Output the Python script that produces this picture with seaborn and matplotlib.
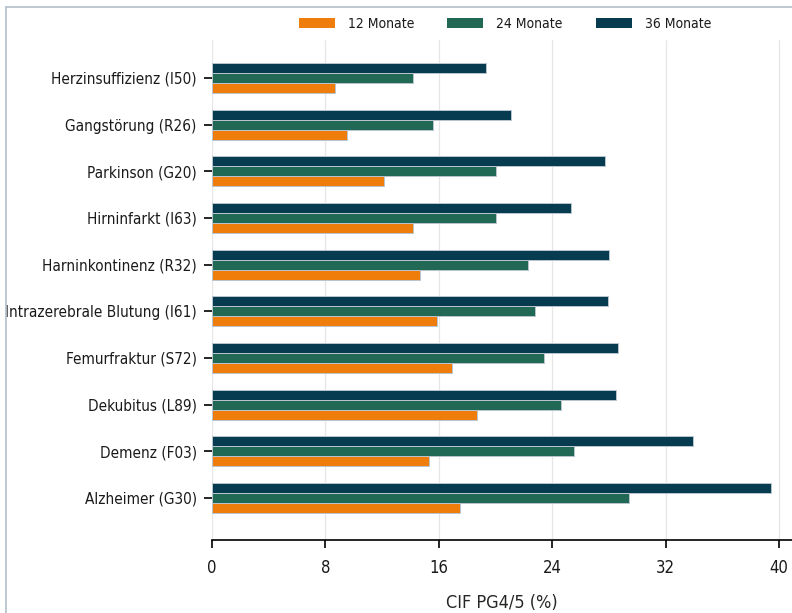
import matplotlib
matplotlib.use("Agg")
import matplotlib.pyplot as plt
import seaborn as sns
import pandas as pd
from matplotlib.patches import Patch
from matplotlib.lines import Line2D

diagnoses = [
    "Herzinsuffizienz (I50)",
    "Gangstörung (R26)",
    "Parkinson (G20)",
    "Hirninfarkt (I63)",
    "Harninkontinenz (R32)",
    "Intrazerebrale Blutung (I61)",
    "Femurfraktur (S72)",
    "Dekubitus (L89)",
    "Demenz (F03)",
    "Alzheimer (G30)",
]
cif_12 = [8.7, 9.5, 12.1, 14.2, 14.7, 15.9, 16.9, 18.7, 15.3, 17.5]
cif_24 = [14.2, 15.6, 20.0, 20.0, 22.3, 22.8, 23.4, 24.6, 25.5, 29.4]
cif_36 = [19.3, 21.1, 27.7, 25.3, 28.0, 27.9, 28.6, 28.5, 33.9, 39.4]
periods = ["12 Monate", "24 Monate", "36 Monate"]
x_ticks = [0, 8, 16, 24, 32, 40]

colors = {"12 Monate": "#EE7D0B", "24 Monate": "#216855", "36 Monate": "#073B4F"}

df = pd.concat([
    pd.DataFrame({"Diagnose": diagnoses, "Zeitraum": p, "CIF": v})
    for p, v in zip(periods, [cif_12, cif_24, cif_36])
])

sns.set_theme(style="white")
plt.rcParams["font.family"] = ["DejaVu Sans"]
plt.rcParams["font.stretch"] = "condensed"
plt.rcParams["text.color"] = "#1a1a1a"

fig = plt.figure(figsize=(7.92, 6.13), dpi=100)
ax = fig.add_axes([212 / 792, 1 - 540 / 613, 1 - 212 / 792, (540 - 40) / 613])

sns.barplot(
    data=df, y="Diagnose", x="CIF", hue="Zeitraum",
    order=diagnoses, hue_order=periods[::-1], palette=colors, saturation=1,
    orient="h", width=0.645, ax=ax, legend=False,
    edgecolor="#b9c5cf", linewidth=0.7,
)

ax.set_xlim(0, 40.9)
ax.set_ylim(9.9, -0.814)
ax.set_xticks(x_ticks)
ax.xaxis.grid(True, color="#e6e6e6", linewidth=0.9)
ax.set_axisbelow(True)
for s in ["top", "right", "left"]:
    ax.spines[s].set_visible(False)
ax.spines["bottom"].set_color("black")
ax.spines["bottom"].set_linewidth(1.2)
ax.tick_params(axis="x", which="major", length=6, width=1.2, color="black",
               labelsize=12, pad=8, bottom=True, labelcolor="#1a1a1a")
ax.tick_params(axis="y", which="major", length=6, width=1.2, color="black",
               labelsize=11, pad=5, left=True, labelcolor="#1a1a1a")
ax.set_ylabel("")
ax.set_xlabel("CIF PG4/5 (%)", fontsize=13, labelpad=12)

handles = [Patch(facecolor=colors[p], edgecolor="none") for p in periods]
fig.legend(handles, periods, loc="center", ncol=3, frameon=False,
           bbox_to_anchor=(505 / 792, 1 - 24 / 613), fontsize=10,
           handlelength=2.6, handleheight=0.8, handletextpad=0.93,
           columnspacing=2.4)

# outer frame
frame_kw = dict(color="#b3bfca", linewidth=1.2, transform=fig.transFigure)
fig.add_artist(Line2D([6 / 792, 1.0], [1 - 7 / 613, 1 - 7 / 613], **frame_kw))
fig.add_artist(Line2D([6 / 792, 6 / 792], [1 - 7 / 613, 0], **frame_kw))

fig.savefig("out.png", dpi=100)
